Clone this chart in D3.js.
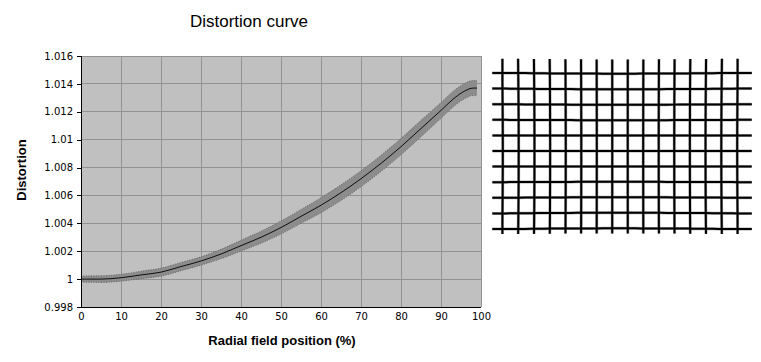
<!DOCTYPE html>
<html>
<head>
<meta charset="utf-8">
<script src="https://d3js.org/d3.v7.min.js"></script>
<style>
  html, body { margin: 0; padding: 0; background: #fff; }
  svg { display: block; }
  .tick text { font: 10px "DejaVu Sans", sans-serif; fill: #000; }
  .lbl { font: bold 13px "Liberation Sans", Arial, sans-serif; fill: #000; }
  .title { font: 17px "Liberation Sans", Arial, sans-serif; fill: #000; }
</style>
</head>
<body>
<div id="chart"></div>
<script>
// radial field position (%) and measured distortion
var radial     = [0, 5, 10, 15, 20, 25, 30, 35, 40, 45, 50, 55, 60, 65, 70, 75, 80, 85, 90, 93, 96, 98, 99];
var distortion = [1.0000, 1.0000, 1.0001, 1.0003, 1.0005, 1.0009, 1.0013, 1.0018, 1.0024, 1.0030, 1.0037, 1.0045,
                  1.0053, 1.0062, 1.0072, 1.0083, 1.0095, 1.0108, 1.0121, 1.0129, 1.0135, 1.0137, 1.0137];
// uncertainty band
var upper = [1.00023, 1.00024, 1.00035, 1.00057, 1.00079, 1.0012, 1.0016, 1.00214, 1.00279, 1.00343, 1.00417, 1.005,
             1.00584, 1.00676, 1.00777, 1.00888, 1.01009, 1.01139, 1.01267, 1.01346, 1.01405, 1.01424, 1.01424];
var lower = [0.99977, 0.99976, 0.99985, 1.00003, 1.00021, 1.0006, 1.001, 1.00146, 1.00201, 1.00257, 1.00323, 1.004,
             1.00476, 1.00564, 1.00663, 1.00772, 1.00891, 1.01021, 1.01153, 1.01234, 1.01295, 1.01316, 1.01316];

var xTicks = [0, 10, 20, 30, 40, 50, 60, 70, 80, 90, 100];
var yTicks = [0.998, 1, 1.002, 1.004, 1.006, 1.008, 1.01, 1.012, 1.014, 1.016];

// test target grid: number of lines
var gridCols = 16, gridRows = 11;

var W = 761, H = 362;
var margin = {top: 56, left: 81},
    width = 400,
    height = 251;

var svg = d3.select("#chart").append("svg")
    .attr("width", W)
    .attr("height", H);

svg.append("text")
    .attr("class", "title")
    .attr("x", 249)
    .attr("y", 27)
    .attr("text-anchor", "middle")
    .text("Distortion curve");

var g = svg.append("g")
    .attr("transform", "translate(" + margin.left + "," + margin.top + ")");

var x = d3.scaleLinear().domain([0, 100]).range([0, width]);
var y = d3.scaleLinear().domain([0.998, 1.016]).range([height, 0]);

g.append("rect")
    .attr("width", width)
    .attr("height", height)
    .attr("fill", "#c0c0c0");

// gridlines
g.selectAll(".vgrid")
    .data(xTicks)
  .enter().append("line")
    .attr("x1", function(d) { return x(d); })
    .attr("x2", function(d) { return x(d); })
    .attr("y1", 0)
    .attr("y2", height)
    .attr("stroke", "#929292")
    .attr("shape-rendering", "crispEdges");

g.selectAll(".hgrid")
    .data(yTicks)
  .enter().append("line")
    .attr("y1", function(d) { return y(d); })
    .attr("y2", function(d) { return y(d); })
    .attr("x1", 0)
    .attr("x2", width)
    .attr("stroke", "#929292")
    .attr("shape-rendering", "crispEdges");

var pts = radial.map(function(r, i) {
  return {r: r, v: distortion[i], hi: upper[i], lo: lower[i]};
});

var band = d3.area()
    .curve(d3.curveMonotoneX)
    .x(function(d) { return x(d.r); })
    .y0(function(d) { return y(d.lo); })
    .y1(function(d) { return y(d.hi); });

g.append("path")
    .datum(pts)
    .attr("d", band)
    .attr("fill", "#8c8c8c");

["hi", "lo"].forEach(function(k) {
  g.append("path")
      .datum(pts)
      .attr("d", d3.line().curve(d3.curveMonotoneX)
          .x(function(d) { return x(d.r); })
          .y(function(d) { return y(d[k]); }))
      .attr("fill", "none")
      .attr("stroke", "#3a3a3a")
      .attr("stroke-width", 0.6)
      .attr("stroke-dasharray", "1,1.5");
});

g.append("path")
    .datum(pts)
    .attr("d", d3.line().curve(d3.curveMonotoneX)
        .x(function(d) { return x(d.r); })
        .y(function(d) { return y(d.v); }))
    .attr("fill", "none")
    .attr("stroke", "#000")
    .attr("stroke-width", 0.9);

// axes
var yAxis = g.append("g")
    .call(d3.axisLeft(y).tickValues(yTicks).tickSize(4).tickPadding(4)
      .tickFormat(function(d) { return +d.toFixed(3); }));
var xAxis = g.append("g")
    .attr("transform", "translate(0," + height + ")")
    .call(d3.axisBottom(x).tickValues(xTicks).tickSize(0).tickPadding(6));

[yAxis, xAxis].forEach(function(a) {
  a.select(".domain").attr("stroke", "#000").attr("shape-rendering", "crispEdges");
  a.selectAll(".tick line").attr("stroke", "#000").attr("shape-rendering", "crispEdges");
});
yAxis.select(".domain").attr("d", "M0," + height + "V0");
xAxis.select(".domain").attr("d", "M0,0H" + width);

svg.append("text")
    .attr("class", "lbl")
    .attr("transform", "translate(26,170) rotate(-90)")
    .attr("text-anchor", "middle")
    .text("Distortion");

svg.append("text")
    .attr("class", "lbl")
    .attr("x", 282)
    .attr("y", 345)
    .attr("text-anchor", "middle")
    .text("Radial field position (%)");

// distorted grid picture, warped with the curve above
var gx = d3.scaleLinear().domain([0, gridCols - 1]).range([504, 736]);
var gy = d3.scaleLinear().domain([0, gridRows - 1]).range([74, 228]);
var cx = 620, cy = 151;
var rmax = Math.sqrt(Math.pow(736 - cx, 2) + Math.pow(228 - cy, 2));
var warp = d3.scaleLinear().domain(radial).range(distortion).clamp(true);

function warpPt(px, py) {
  var dx = px - cx, dy = py - cy;
  var r = Math.sqrt(dx * dx + dy * dy) / rmax * 100;
  var f = warp(r) / warp(0);
  return [cx + dx * f, cy + dy * f];
}

var steps = d3.range(0, 1.0001, 1 / 40);
var lines = [];
d3.range(gridRows).forEach(function(j) {
  lines.push(steps.map(function(t) { return warpPt(494 + t * (750 - 494), gy(j)); }));
});
d3.range(gridCols).forEach(function(i) {
  lines.push(steps.map(function(t) { return warpPt(gx(i), 60 + t * (233 - 60)); }));
});

var gridG = svg.append("g");
gridG.selectAll(".halo")
    .data(lines)
  .enter().append("path")
    .attr("d", d3.line())
    .attr("fill", "none")
    .attr("stroke", "#a8a8a8")
    .attr("stroke-width", 3);
gridG.selectAll(".gl")
    .data(lines)
  .enter().append("path")
    .attr("d", d3.line())
    .attr("fill", "none")
    .attr("stroke", "#000")
    .attr("stroke-width", 2);
</script>
</body>
</html>
